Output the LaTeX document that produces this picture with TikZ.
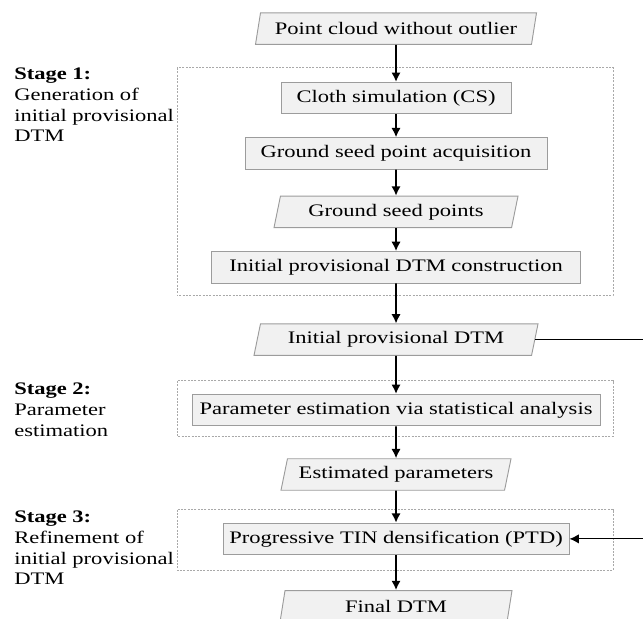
\documentclass[tikz,border=0pt]{standalone}
\usepackage{fontspec}
\setmainfont{Liberation Serif}[FakeStretch=1.28]
\usepackage{tikz}
\usetikzlibrary{arrows.meta,calc,positioning,shapes.geometric}
\definecolor{BoxFill}{HTML}{F1F1F1}
\definecolor{BoxLine}{HTML}{9C9C9C}
\definecolor{StageLine}{HTML}{A9A9A9}

\begin{document}
\begin{tikzpicture}[>=Latex,
    font=\fontsize{13.2pt}{15.5pt}\selectfont,
    procbox/.style={rectangle, draw=BoxLine, fill=BoxFill, line width=0.7pt, minimum height=23.6pt, inner xsep=2pt, inner ysep=0pt},
    databox/.style={trapezium, trapezium left angle=68, trapezium right angle=112, trapezium stretches body, draw=BoxLine, fill=BoxFill, line width=0.7pt, minimum height=23.6pt, inner xsep=2pt, inner ysep=0pt},
    stagebox/.style={draw=StageLine, dash pattern=on 1.5pt off 1pt, line width=0.6pt},
    stagelabel/.style={anchor=north west, align=left, inner sep=0pt},
    flow/.style={-{Latex[length=7pt,width=7pt]}, line width=1.3pt}]
    \useasboundingbox (0,0) rectangle (482.25pt,-463.5pt);
    \clip (0,0) rectangle (482.25pt,-463.5pt);
    % margins of the stage frames
    \coordinate (L) at (132.75pt,0);
    \coordinate (R) at (459.75pt,0);
    \coordinate (M) at (10.5pt,0);
    \coordinate (X) at (487.5pt,0);
    % main column
    \node[databox, minimum width=210.75pt] (pc) at (297pt,-21.5pt) {Point cloud without outlier};
    \node[procbox, minimum width=172.5pt, below=27.75pt of pc] (cs) {Cloth simulation (CS)};
    \node[procbox, minimum width=226.5pt, below=17.25pt of cs] (gsa) {Ground seed point acquisition};
    \node[databox, minimum width=183pt, below=19.5pt of gsa] (gsp) {Ground seed points};
    \node[procbox, minimum width=276.75pt, below=17.25pt of gsp] (ipc) {Initial provisional DTM construction};
    \node[databox, minimum width=213pt, below=30pt of ipc] (ipd) {Initial provisional DTM};
    \node[procbox, minimum width=306pt, below=28.5pt of ipd] (pe) {Parameter estimation via statistical analysis};
    \node[databox, minimum width=172.5pt, below=24pt of pe] (ep) {Estimated parameters};
    \node[procbox, minimum width=259.5pt, below=24pt of ep] (ptd) {Progressive TIN densification (PTD)};
    \node[databox, minimum width=174pt, below=26.25pt of ptd] (fin) {Final DTM};
    % stage frames
    \draw[stagebox] ($(cs.north -| L)+(0,10.5pt)$) coordinate (s1) rectangle ($(ipc.south -| R)+(0,-9pt)$);
    \draw[stagebox] ($(pe.north -| L)+(0,9.75pt)$) coordinate (s2) rectangle ($(pe.south -| R)+(0,-7.5pt)$);
    \draw[stagebox] ($(ptd.north -| L)+(0,9.75pt)$) coordinate (s3) rectangle ($(ptd.south -| R)+(0,-11.25pt)$);
    % stage labels
    \node[stagelabel] (st1) at ($(s1 -| M)+(0,0pt)$) {\textbf{Stage 1:}\\Generation of\\initial provisional\\DTM};
    \node[stagelabel] (st2) at ($(s2 -| M)+(0,-1.5pt)$) {\textbf{Stage 2:}\\Parameter\\estimation};
    \node[stagelabel] (st3) at ($(s3 -| M)+(0,-1pt)$) {\textbf{Stage 3:}\\Refinement of\\initial provisional\\DTM};
    % arrows
    \draw[flow] (pc) -- (cs);
    \draw[flow] (cs) -- (gsa);
    \draw[flow] (gsa) -- (gsp);
    \draw[flow] (gsp) -- (ipc);
    \draw[flow] (ipc) -- (ipd);
    \draw[flow] (ipd) -- (pe);
    \draw[flow] (pe) -- (ep);
    \draw[flow] (ep) -- (ptd);
    \draw[flow] (ptd) -- (fin);
    \draw[flow, line width=0.9pt] (ipd.east) -- (ipd.east -| X) -- (ptd.east -| X) -- (ptd.east);
\end{tikzpicture}
\end{document}
